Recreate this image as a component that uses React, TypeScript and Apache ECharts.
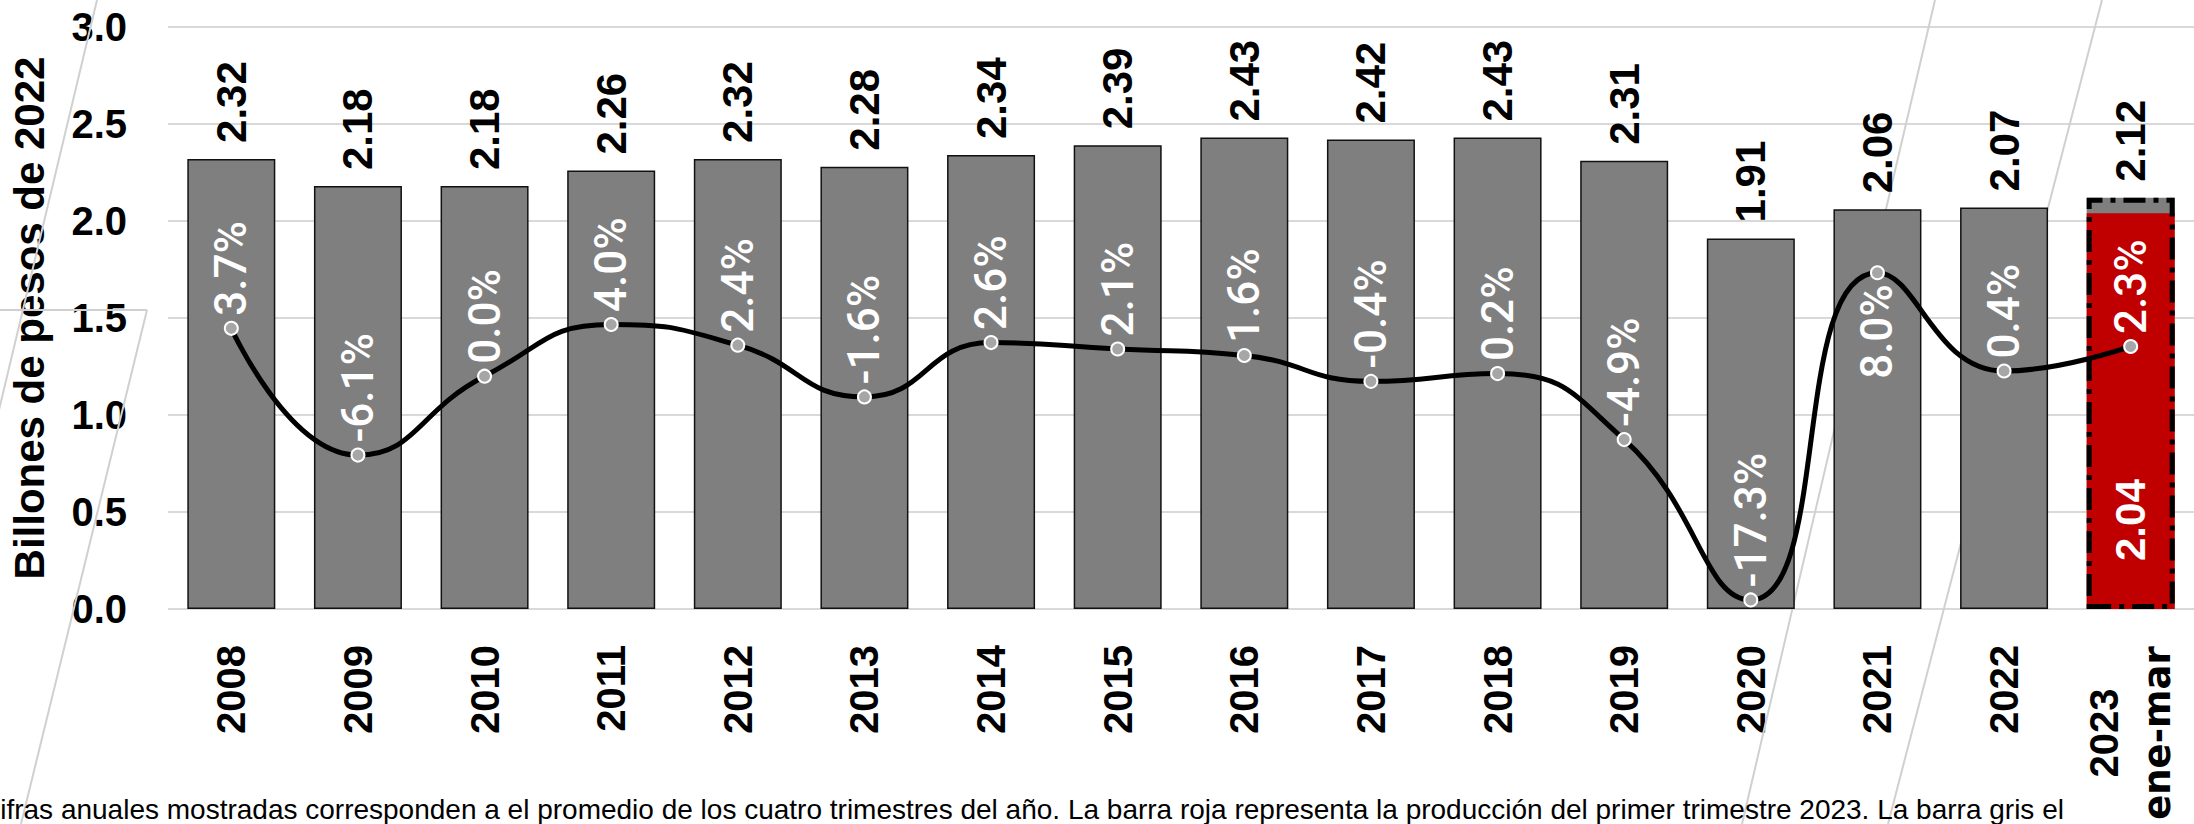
import React, { useEffect, useRef } from "react";
import * as echarts from "echarts";

const categories = ["2008", "2009", "2010", "2011", "2012", "2013", "2014", "2015", "2016", "2017", "2018", "2019", "2020", "2021", "2022", "2023"];
const lastSuffix = "ene-mar";
const annualValues = [2.32, 2.18, 2.18, 2.26, 2.32, 2.28, 2.34, 2.39, 2.43, 2.42, 2.43, 2.31, 1.91, 2.06, 2.07, 2.12];
const quarterValues = [null, null, null, null, null, null, null, null, null, null, null, null, null, null, null, 2.04];
const growthPct = [3.7, -6.1, 0.0, 4.0, 2.4, -1.6, 2.6, 2.1, 1.6, -0.4, 0.2, -4.9, -17.3, 8.0, 0.4, 2.3];
const yTicks = [0, 0.5, 1.0, 1.5, 2.0, 2.5, 3.0];
const yTitle = "Billones de pesos de 2022";
const footnote =
  "Cifras anuales mostradas corresponden a el promedio de los cuatro trimestres del año. La barra roja representa la producción del primer trimestre 2023. La barra gris el";

const BOLD = "'Liberation Sans', Arial, sans-serif";

export default function App() {
  const ref = useRef<HTMLDivElement>(null);
  useEffect(() => {
    if (!ref.current) return;
    const chart = echarts.init(ref.current, null, { renderer: "svg" });
    const last = categories.length - 1;
    const bgLine = (x1: number, y1: number, x2: number, y2: number) => ({
      type: "line",
      z: 1,
      silent: true,
      shape: { x1, y1, x2, y2 },
      style: { stroke: "#d0d0d0", lineWidth: 2 },
    });
    chart.setOption({
      animation: false,
      backgroundColor: "#ffffff",
      grid: { left: 166.6, right: -7.6, top: 27, bottom: 196, containLabel: false },
      xAxis: {
        type: "category",
        data: categories,
        axisLine: { show: false },
        axisTick: { show: false },
        axisLabel: {
          rotate: 90,
          margin: 36,
          interval: 0,
          color: "#000",
          fontFamily: BOLD,
          fontWeight: "bold",
          fontSize: 40,
          formatter: (v: string, i: number) => (i === last ? `{a|${v}}\n{b|${lastSuffix}}` : v),
          rich: {
            a: { fontFamily: BOLD, fontWeight: "bold", fontSize: 40, width: 176, align: "center", lineHeight: 53, color: "#000" },
            b: { fontFamily: "'DejaVu Sans', sans-serif", fontWeight: "bold", fontSize: 37, width: 176, align: "center", lineHeight: 53, color: "#000" },
          },
        },
      },
      yAxis: [
        {
          type: "value",
          min: yTicks[0],
          max: yTicks[yTicks.length - 1],
          interval: 0.5,
          name: yTitle,
          nameLocation: "middle",
          nameRotate: 90,
          nameGap: 118,
          nameTextStyle: { fontFamily: BOLD, fontWeight: "bold", fontSize: 42, color: "#000" },
          axisLine: { show: false },
          axisTick: { show: false },
          axisLabel: {
            margin: 41,
            color: "#000",
            fontFamily: BOLD,
            fontWeight: "bold",
            fontSize: 40,
            formatter: (v: number) => v.toFixed(1),
          },
          splitLine: { lineStyle: { color: "#d9d9d9", width: 2 } },
        },
        {
          type: "value",
          min: -18,
          max: 27,
          show: false,
          splitLine: { show: false },
        },
      ],
      graphic: [
        bgLine(97, 0, -100, 824),
        bgLine(0, 310, 147, 310),
        bgLine(147, 310, 21, 824),
        bgLine(1935, 0, 1742, 824),
        bgLine(2102, 0, 1888, 824),
        {
          type: "text",
          z: 10,
          x: -20,
          y: 795,
          style: {
            text: footnote,
            fill: "#000",
            font: "28px 'Liberation Sans', Arial, sans-serif",
            textVerticalAlign: "top",
          },
        },
      ],
      series: [
        {
          type: "bar",
          name: "anual",
          barWidth: 88,
          barGap: "-100%",
          data: annualValues.map((v, i) =>
            i === last ? { value: v, itemStyle: { borderWidth: 0 } } : v
          ),
          itemStyle: { color: "#7f7f7f", borderColor: "#111", borderWidth: 1.5 },
          label: {
            show: true,
            position: "top",
            rotate: 90,
            align: "left",
            verticalAlign: "middle",
            distance: 16,
            color: "#000",
            fontFamily: BOLD,
            fontWeight: "bold",
            fontSize: 42,
            formatter: (p: any) => Number(p.value).toFixed(2),
          },
        },
        {
          type: "bar",
          name: "trimestre",
          barWidth: 88,
          barGap: "-100%",
          data: quarterValues,
          itemStyle: { color: "#c00000" },
          label: {
            show: true,
            position: "insideBottom",
            rotate: 90,
            align: "left",
            verticalAlign: "middle",
            distance: 48,
            color: "#fff",
            fontFamily: BOLD,
            fontWeight: "bold",
            fontSize: 42,
            formatter: (p: any) => (p.value == null ? "" : Number(p.value).toFixed(2)),
          },
        },
        {
          type: "bar",
          name: "marco",
          barWidth: 88,
          barGap: "-100%",
          silent: true,
          data: annualValues.map((v, i) => (i === last ? v : null)),
          itemStyle: {
            color: "rgba(0,0,0,0)",
            borderColor: "#000",
            borderWidth: 5,
            borderType: [22, 8, 5, 8],
          },
        },
        {
          type: "line",
          name: "crecimiento",
          yAxisIndex: 1,
          smooth: 0.5,
          symbol: "circle",
          symbolSize: 13,
          z: 5,
          data: growthPct.map((v, i) =>
            i === 13
              ? { value: v, label: { position: "bottom", align: "right", distance: 4 } }
              : v
          ),
          lineStyle: { color: "#000", width: 5 },
          itemStyle: { color: "#a6a6a6", borderColor: "#fff", borderWidth: 2 },
          label: {
            show: true,
            position: "top",
            rotate: 90,
            align: "left",
            verticalAlign: "middle",
            distance: 5,
            color: "#fff",
            fontFamily: "Roboto, 'Liberation Sans', sans-serif",
            fontWeight: 500,
            fontSize: 44,
            formatter: (p: any) => Number(p.value).toFixed(1) + "%",
          },
        },
      ],
    });
    return () => chart.dispose();
  }, []);
  return (
    <div
      ref={ref}
      style={{ position: "fixed", left: 0, top: 0, width: 2194, height: 824, background: "#fff" }}
    />
  );
}
